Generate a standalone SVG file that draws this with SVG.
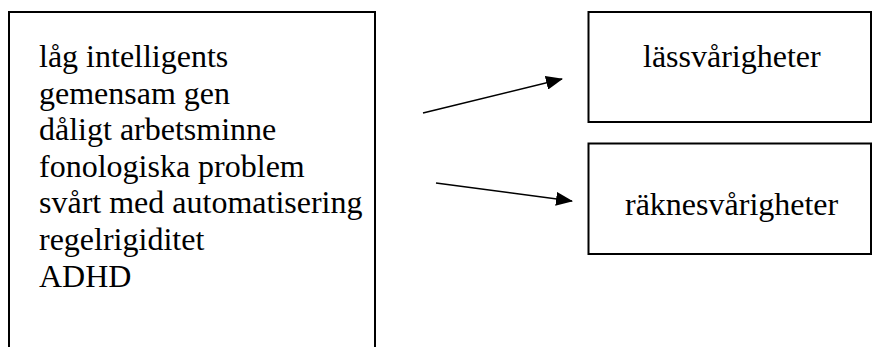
<svg xmlns="http://www.w3.org/2000/svg" width="872" height="347" viewBox="0 0 872 347">
<style>
.box{fill:#fff;stroke:#000;stroke-width:2}
.t{font-family:"Liberation Serif","Times New Roman",serif;font-size:32px;fill:#000}
.c{stroke:#000;stroke-width:1.6;fill:none}
</style>
<defs>
<marker id="ah" viewBox="0 0 17 14" refX="16" refY="7" markerWidth="17" markerHeight="14" markerUnits="userSpaceOnUse" orient="auto">
<path d="M0,0 L17,7 L0,14 z" fill="#000"/>
</marker>
</defs>
<rect width="872" height="347" fill="#fff"/>
<g id="causes">
<rect class="box" x="9" y="12" width="366" height="400"/>
<text class="t" x="39" y="67">låg intelligents</text>
<text class="t" x="39" y="103.5">gemensam gen</text>
<text class="t" x="39" y="140">dåligt arbetsminne</text>
<text class="t" x="39" y="176.7">fonologiska problem</text>
<text class="t" x="39" y="213.3">svårt med automatisering</text>
<text class="t" x="39" y="250">regelrigiditet</text>
<text class="t" x="39" y="286.7">ADHD</text>
</g>
<g id="lass">
<rect class="box" x="588.5" y="12" width="282.5" height="110"/>
<text class="t" x="643" y="67">lässvårigheter</text>
</g>
<g id="rakne">
<rect class="box" x="588.5" y="143.5" width="282.5" height="110.5"/>
<text class="t" x="625" y="215">räknesvårigheter</text>
</g>
<g id="connectors">
<line class="c" x1="423" y1="113" x2="562" y2="79" marker-end="url(#ah)"/>
<line class="c" x1="436" y1="183" x2="572" y2="201" marker-end="url(#ah)"/>
</g>
</svg>
